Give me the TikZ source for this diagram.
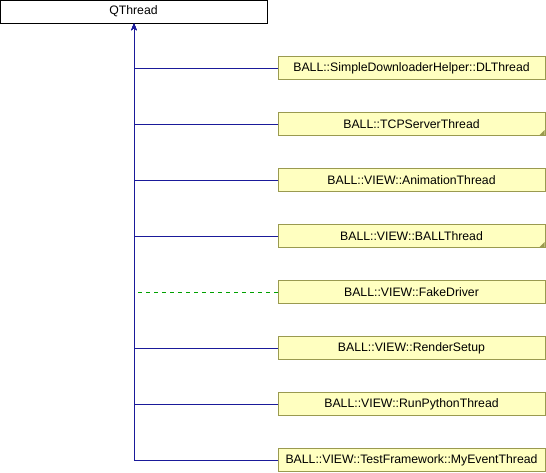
\documentclass[tikz,border=0pt]{standalone}
\usepackage{fontspec}
\setmainfont{Liberation Sans}
\usetikzlibrary{arrows.meta}
\definecolor{edgeblue}{HTML}{1A1A9A}
\definecolor{edgegreen}{HTML}{00A000}
\definecolor{boxfill}{HTML}{FFFFC0}
\definecolor{boxline}{HTML}{9A9A50}
\tikzset{
  cls/.style={draw=boxline, fill=boxfill, line width=0.75pt, minimum width=267*0.75pt, minimum height=23*0.75pt, inner sep=0pt, font=\fontsize{9.2pt}{10.5pt}\selectfont},
  top/.style={draw=black, fill=white, line width=0.75pt, minimum width=267*0.75pt, minimum height=23*0.75pt, inner sep=0pt, font=\fontsize{9.2pt}{10.5pt}\selectfont},
  inh/.style={draw=edgeblue, line width=0.75pt, -{Stealth[length=5pt,width=4pt]}},
  priv/.style={draw=edgegreen, line width=0.75pt, dash pattern=on 3pt off 3pt},
  more/.style={fill=boxline, draw=none}
}
\begin{document}
\begin{tikzpicture}[x=0.75pt,y=-0.75pt]
\useasboundingbox (0,0) rectangle (546,472);
\node[top] (q) at (133.5,11.5) {QThread};
\node[cls] (c1) at (411.5,68) {BALL::SimpleDownloaderHelper::DLThread};
\node[cls] (c2) at (411.5,124) {BALL::TCPServerThread};
\node[cls] (c3) at (411.5,180) {BALL::VIEW::AnimationThread};
\node[cls] (c4) at (411.5,236) {BALL::VIEW::BALLThread};
\node[cls] (c5) at (411.5,292) {BALL::VIEW::FakeDriver};
\node[cls] (c6) at (411.5,348) {BALL::VIEW::RenderSetup};
\node[cls] (c7) at (411.5,404) {BALL::VIEW::RunPythonThread};
\node[cls] (c8) at (411.5,460) {BALL::VIEW::TestFramework::MyEventThread};
\fill[more] ([xshift=-0.75pt,yshift=0.75pt]c2.south east) -- ++(-5*0.75pt,0) -- ++(5*0.75pt,5*0.75pt) -- cycle;
\fill[more] ([xshift=-0.75pt,yshift=0.75pt]c4.south east) -- ++(-5*0.75pt,0) -- ++(5*0.75pt,5*0.75pt) -- cycle;
\foreach \c in {c1,c2,c3,c4,c6,c7,c8}{
  \draw[inh] (\c.west) -| ([xshift=0.5*0.75pt]q.south);
}
\coordinate (d) at (137,292);
\draw[priv] (c5.west) -- (d);
\end{tikzpicture}
\end{document}
